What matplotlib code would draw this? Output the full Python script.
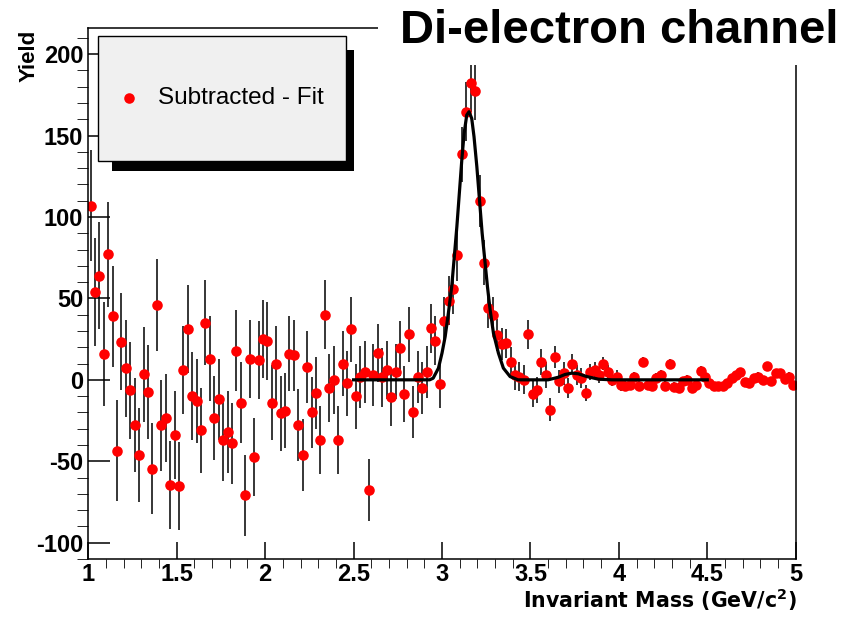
import numpy as np
import matplotlib as mpl
mpl.use('Agg')
import matplotlib.pyplot as plt
from matplotlib.patches import Rectangle
from matplotlib.lines import Line2D
from matplotlib.ticker import MultipleLocator, FuncFormatter

mpl.rcParams.update({'font.family': 'Liberation Sans', 'axes.unicode_minus': False,
                     'mathtext.fontset': 'custom', 'mathtext.rm': 'DejaVu Sans',
                     'mathtext.bf': 'DejaVu Sans:bold'})

# histogram binning: 160 bins of 25 MeV between 1 and 5 GeV/c^2
bin_lo = 1.0
bin_width = 0.025
n_bins = 160
mass = bin_lo + bin_width * (np.arange(n_bins) + 0.5)

# subtracted yield per bin
yield_sub = [
    107, 54, 64, 16, 77, 39, -43.6, 23.5, 7, -6.5,
    -27.6, -46, 3.3, -7.5, -54.6, 46, -28, -23.5, -64.4, -34,
    -65.4, 6, 31, -10, -13, -31, 35, 13, -23.5, -12,
    -37, -32, -39, 18, -14, -71, 13, -47.6, 12, 25,
    24, -14, 10, -20.5, -19, 16, 15, -27.6, -46, 8,
    -20, -8, -37, 40, -5, 0, -37, 10, -2, 31,
    -10, 2, 5, -67.5, 3, 16.4, 1.6, 6, -10.6, 5,
    19.4, -8.8, 28, -20, 2, -5, 5, 31.7, 24, -2.5,
    36, 48.7, 55.6, 76.7, 138.5, 164.6, 182.4, 177.3, 110, 72,
    44, 40, 27.6, 22, 22.5, 11, 3, 2, 0, 28,
    -8.6, -6.5, 11, 3, -18.4, 14, -1, 4, -5, 10,
    3, 1, -8, 5, 6, 3, 10, 5, 0, 2,
    -3, -4, -3, 2, -4, 11, -3, -4, 1, 3,
    -4, 9.5, -4.5, -5, -1, 0, -5, -3, 5.7, 2,
    -2, -3.7, -4, -3.7, -2, 1, 3, 5, -1.6, -2,
    1, 2, 0, 8.6, -1, 4, 4, 0.4, 2, -3,
]

yield_err = [
    34, 33, 33, 32, 32, 31, 31, 30, 30, 30,
    29, 29, 29, 29, 28, 28, 28, 27, 27, 27,
    27, 27, 27, 27, 26, 26, 26, 26, 26, 25,
    25, 25, 25, 25, 25, 25, 24, 24, 24, 24,
    24, 23, 23, 23, 23, 23, 22, 22, 22, 22,
    22, 22, 21, 21, 21, 21, 21, 20, 20, 20,
    20, 19, 19, 19, 19, 18, 18, 18, 18, 17,
    17, 17, 17, 16, 16, 16, 16, 15, 15, 15,
    15, 15, 15, 16, 17, 18, 18, 18, 16, 14,
    12, 11, 10, 10, 9, 9, 9, 9, 9, 9,
    8, 8, 8, 8, 7, 7, 7, 7, 6, 6,
    6, 6, 5, 5, 5, 5, 4, 4, 4, 4,
    4, 3, 3, 3, 3, 3, 3, 3, 3, 3,
    3, 3, 3, 3, 3, 3, 3, 3, 3, 3,
    2.5, 2.5, 2.5, 2.5, 2.5, 2.5, 2.5, 2.5, 2.5, 2.5,
    2.5, 2.5, 2.5, 2.5, 2.5, 2.5, 2.5, 2.5, 2.5, 2.5,
]

# fit curve, points
fit_x = [2.5, 2.93, 2.95, 2.98, 3.0, 3.018, 3.036, 3.055, 3.068, 3.084,
         3.098, 3.112, 3.125, 3.14, 3.153, 3.168, 3.181, 3.197, 3.212, 3.227,
         3.242, 3.257, 3.272, 3.291, 3.319, 3.347, 3.385, 3.43, 3.6, 3.658,
         3.696, 3.734, 3.771, 3.819, 3.885, 3.96, 4.5]
fit_y = [0, 0, 1, 7.2, 16.4, 26.6, 40.9, 57.3, 73.6, 94,
         114.5, 135, 151.3, 162.6, 164.6, 160.5, 149.3, 130.9, 110.4, 90,
         73.6, 57.2, 43, 28.6, 16.4, 7.2, 2, 0, 0, 1.6,
         3.3, 4.1, 3.7, 2, 0.4, 0, 0]

W, H = 852, 617


def fx(px):
    return px / W


def fy(py):
    return 1 - py / H


fig = plt.figure(figsize=(W / 100, H / 100), dpi=100)
ax = fig.add_axes([fx(88.3), fy(559), fx(795.7) - fx(88.3), fy(28) - fy(559)])

ax.errorbar(mass, yield_sub, yerr=yield_err, fmt='o', color='#ff0000', ms=7.6, mew=0,
            ecolor='black', elinewidth=1.1, capsize=0, zorder=2)
ax.plot(fit_x, fit_y, color='black', lw=2.3, zorder=3)

ax.set_xlim(1, 5)
ax.set_ylim(-110, 216)
ax.xaxis.set_major_locator(MultipleLocator(0.5))
ax.xaxis.set_minor_locator(MultipleLocator(0.1))
ax.yaxis.set_major_locator(MultipleLocator(50))
ax.yaxis.set_minor_locator(MultipleLocator(10))
ax.xaxis.set_major_formatter(FuncFormatter(lambda v, p: '%g' % v))
ax.yaxis.set_major_formatter(FuncFormatter(lambda v, p: '%g' % v))

for s in ax.spines.values():
    s.set_linewidth(1.1)
ax.tick_params(direction='in', width=1.1, top=False, right=False)
ax.tick_params(axis='x', which='major', length=12.2, pad=3, labelsize=17)
ax.tick_params(axis='x', which='minor', length=6.5)
ax.tick_params(axis='y', which='major', length=15.8, pad=3.6, labelsize=17)
ax.tick_params(axis='y', which='minor', length=8)
for lab in ax.get_xticklabels() + ax.get_yticklabels():
    lab.set_fontweight('bold')

# legend box with ROOT style shadow
fig.patches.append(Rectangle((fx(112), fy(171)), fx(354) - fx(112), fy(50) - fy(171),
                             transform=fig.transFigure, facecolor='black',
                             edgecolor='none', zorder=4))
fig.patches.append(Rectangle((fx(98), fy(161)), fx(346) - fx(98), fy(36) - fy(161),
                             transform=fig.transFigure, facecolor='#f0f0f0',
                             edgecolor='black', lw=1.0, zorder=5))
fig.lines.append(Line2D([fx(129)], [fy(98)], transform=fig.transFigure, marker='o',
                        ms=7.6, mew=0, color='#ff0000', ls='none', zorder=6))
fig.text(fx(158), fy(98), 'Subtracted - Fit', fontsize=17.5, va='center', zorder=6)

# title box hides the upper frame
fig.patches.append(Rectangle((fx(378), fy(65)), 1 - fx(378), 1 - fy(65),
                             transform=fig.transFigure, facecolor='white',
                             edgecolor='none', zorder=7))
fig.text(fx(400), fy(43), 'Di-electron channel', fontsize=34, fontweight='bold',
         va='baseline', zorder=8)

fig.text(fx(29), fy(30), 'Yield', rotation=90, ha='center', va='top',
         fontsize=16, fontweight='bold')
fig.text(fx(797), fy(608), r'Invariant Mass (GeV/c$^{\mathbf{2}}$)', ha='right',
         va='baseline', fontsize=14.8, fontweight='bold', family='DejaVu Sans')

fig.savefig('out.png', dpi=100)
